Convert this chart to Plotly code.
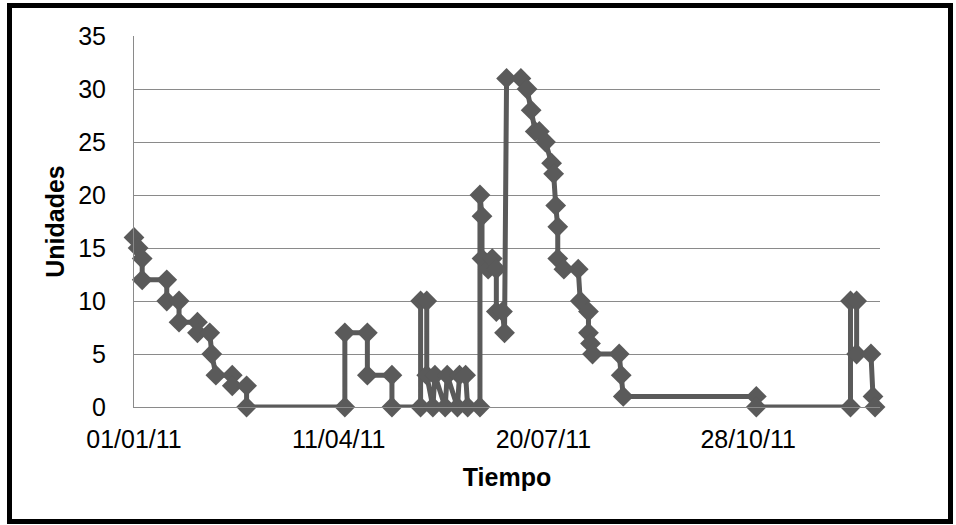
import plotly.graph_objects as go

# Data (date, units)
fechas = [
    "2011-01-01", "2011-01-03", "2011-01-05", "2011-01-05", "2011-01-17", "2011-01-17",
    "2011-01-23", "2011-01-23", "2011-02-01", "2011-02-01", "2011-02-07", "2011-02-08",
    "2011-02-10", "2011-02-18", "2011-02-18", "2011-02-25", "2011-02-25",
    "2011-04-14", "2011-04-14", "2011-04-25", "2011-04-25", "2011-05-07", "2011-05-07",
    "2011-05-21", "2011-05-21", "2011-05-24", "2011-05-24", "2011-05-27", "2011-05-28",
    "2011-06-02", "2011-06-03", "2011-06-08", "2011-06-09", "2011-06-12", "2011-06-13",
    "2011-06-19", "2011-06-19", "2011-06-20", "2011-06-20", "2011-06-23", "2011-06-25",
    "2011-06-27", "2011-06-27", "2011-06-30", "2011-07-01", "2011-07-02", "2011-07-09",
    "2011-07-12", "2011-07-14", "2011-07-16", "2011-07-18", "2011-07-21", "2011-07-24",
    "2011-07-25", "2011-07-26", "2011-07-27", "2011-07-27", "2011-07-30", "2011-08-06",
    "2011-08-07", "2011-08-11", "2011-08-11", "2011-08-12", "2011-08-13", "2011-08-26",
    "2011-08-27", "2011-08-28", "2011-11-01", "2011-11-01", "2011-12-17", "2011-12-17",
    "2011-12-20", "2011-12-20", "2011-12-27", "2011-12-28", "2011-12-29",
]
unidades = [
    16, 15, 14, 12, 12, 10,
    10, 8, 8, 7, 7, 5,
    3, 3, 2, 2, 0,
    0, 7, 7, 3, 3, 0,
    0, 10, 10, 3, 0, 3,
    0, 3, 0, 3, 3, 0,
    0, 20, 18, 14, 13, 14,
    13, 9, 9, 7, 31, 31,
    30, 28, 26, 26, 25, 23,
    22, 19, 17, 14, 13, 13,
    10, 9, 7, 6, 5, 5,
    3, 1, 1, 0, 0, 10,
    10, 5, 5, 1, 0,
]

tick_fechas = ["2011-01-01", "2011-04-11", "2011-07-20", "2011-10-28"]
tick_textos = ["01/01/11", "11/04/11", "20/07/11", "28/10/11"]
y_ticks = [0, 5, 10, 15, 20, 25, 30, 35]

COLOR = "#5a5a5a"
GRID = "#8a8a8a"
FONT = "Liberation Sans, Arial, sans-serif"

fig = go.Figure()
fig.add_trace(go.Scatter(
    x=fechas, y=unidades, mode="lines+markers",
    line=dict(color=COLOR, width=5),
    marker=dict(symbol="diamond", size=16, color=COLOR, line=dict(width=0)),
    showlegend=False, cliponaxis=False,
))

W, H = 956, 525
L, R, T, B = 134, 880, 36, 407

def px_x(p):
    return (p - L) / (R - L)

def px_y(p):
    return (B - p) / (B - T)

fig.update_layout(
    width=W, height=H,
    margin=dict(l=L, r=W - R, t=T, b=H - B),
    paper_bgcolor="white", plot_bgcolor="white",
    font=dict(family=FONT, size=25, color="black"),
    xaxis=dict(
        type="date",
        range=["2011-01-01", "2011-12-31 10:00"],
        tickvals=tick_fechas, ticktext=tick_textos,
        showgrid=False, zeroline=False,
        showline=True, linecolor=GRID, linewidth=1,
        ticks="", ticklabelstandoff=10,
        tickfont=dict(size=25),
        title=dict(text="<b>Tiempo</b>", font=dict(size=25), standoff=16),
    ),
    yaxis=dict(
        range=[0, 35], tickvals=y_ticks,
        showgrid=True, gridcolor=GRID, gridwidth=1,
        zeroline=False, showline=True, linecolor=GRID, linewidth=1,
        ticks="", ticklabelstandoff=22,
        tickfont=dict(size=25),
        title=dict(text="<b>Unidades</b>", font=dict(size=25), standoff=6),
    ),
    shapes=[dict(
        type="rect", xref="paper", yref="paper",
        x0=px_x(9.5), x1=px_x(950.5), y0=px_y(521.5), y1=px_y(5.5),
        line=dict(color="black", width=5), fillcolor="rgba(0,0,0,0)", layer="above",
    )],
)

fig.write_html("out.html")
